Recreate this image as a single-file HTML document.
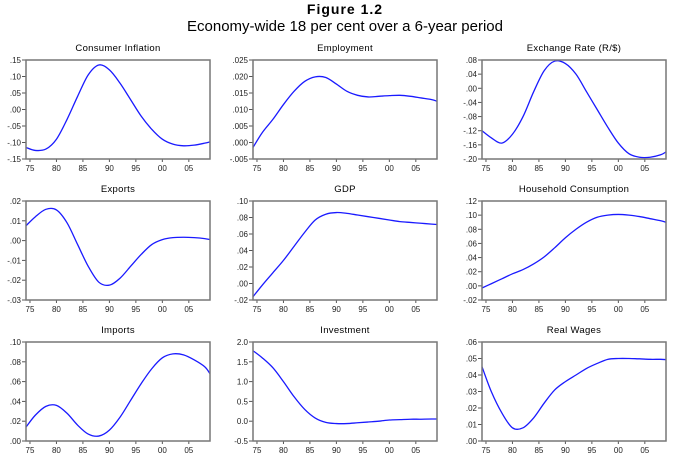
<!DOCTYPE html>
<html><head><meta charset="utf-8"><style>
body{margin:0;background:#fff;width:690px;height:468px;overflow:hidden;font-family:"Liberation Sans",Arial,sans-serif}
svg{position:absolute;left:0;top:0}
</style></head><body>
<svg id="c" width="690" height="468">
<text x="345" y="14" text-anchor="middle" font-size="14" font-weight="bold" letter-spacing="1">Figure 1.2</text>
<text x="345" y="31" text-anchor="middle" font-size="15">Economy-wide 18 per cent over a 6-year period</text>
</svg>
<script>
const years=[74.25,76,78,80,82,84,86,88,90,92,94,96,98,100,102,104,106,108,109];
const xTicks=[75,80,85,90,95,100,105];
const xTickLabels=["75","80","85","90","95","00","05"];
const titles=["Consumer Inflation","Employment","Exchange Rate (R/$)","Exports","GDP","Household Consumption","Imports","Investment","Real Wages"];
const cpi=[-.115,-.124,-.12,-.09,-.03,.04,.105,.135,.12,.08,.03,-.02,-.06,-.09,-.105,-.11,-.108,-.102,-.098];
const employment=[-.0015,.003,.007,.0115,.0155,.0185,.0199,.0197,.0177,.0155,.0143,.0138,.014,.0142,.0143,.014,.0135,.013,.0125];
const exchange=[-.12,-.14,-.155,-.13,-.08,-.01,.05,.077,.07,.04,-.01,-.06,-.11,-.155,-.185,-.195,-.195,-.188,-.18];
const exportsS=[.0075,.012,.0158,.0155,.009,-.002,-.013,-.021,-.0225,-.019,-.013,-.007,-.002,.0005,.0015,.0017,.0015,.001,.0005];
const gdp=[-.016,-.002,.013,.028,.045,.062,.077,.084,.086,.085,.083,.081,.079,.077,.075,.074,.073,.072,.0715];
const hhc=[-.003,.003,.01,.017,.023,.031,.041,.054,.068,.08,.09,.097,.1,.101,.1,.098,.095,.092,.09];
const importsS=[.014,.026,.035,.036,.028,.016,.007,.005,.011,.024,.041,.058,.073,.084,.088,.087,.082,.075,.068];
const investment=[1.78,1.6,1.35,1.0,.62,.3,.08,-.03,-.06,-.06,-.04,-.02,0,.03,.04,.05,.05,.055,.055];
const wages=[.045,.03,.017,.008,.008,.014,.023,.031,.036,.04,.044,.047,.0495,.05,.05,.0498,.0495,.0495,.0493];
const series=[cpi,employment,exchange,exportsS,gdp,hhc,importsS,investment,wages];
const yTickLabels=[
[".15",".10",".05",".00","-.05","-.10","-.15"],
[".025",".020",".015",".010",".005",".000","-.005"],
[".08",".04",".00","-.04","-.08","-.12","-.16","-.20"],
[".02",".01",".00","-.01","-.02","-.03"],
[".10",".08",".06",".04",".02",".00","-.02"],
[".12",".10",".08",".06",".04",".02",".00","-.02"],
[".10",".08",".06",".04",".02",".00"],
["2.0","1.5","1.0","0.5","0.0","-0.5"],
[".06",".05",".04",".03",".02",".01",".00"]];
const yMax=[.15,.025,.08,.02,.10,.12,.10,2.0,.06];
const yMin=[-.15,-.005,-.20,-.03,-.02,-.02,0,-.5,0];
const NS="http://www.w3.org/2000/svg";
const svg=document.getElementById('c');
const colX=[26,253,482], rowY=[60,201,342], W=184, H=99;
const X0=74.25,X1=109;
function mk(t,a,p){const e=document.createElementNS(NS,t);for(const k in a)e.setAttribute(k,a[k]);(p||svg).appendChild(e);return e;}
titles.forEach((tt,i)=>{
  const L=colX[i%3],T=rowY[Math.floor(i/3)];
  const g=mk('g',{});
  
  
  const xs=v=>L+(v-X0)/(X1-X0)*W;
  const ys=v=>T+(yMax[i]-v)/(yMax[i]-yMin[i])*H;
  const ti=mk('text',{x:L+W/2,y:T-9,'text-anchor':'middle','font-size':'9.5','letter-spacing':'0.3'},g);ti.textContent=tt;
  
  
  const labs=yTickLabels[i],n=labs.length;
  labs.forEach((lb,k)=>{const y=T+k*H/(n-1);
    mk('line',{x1:L-4,x2:L,y1:y,y2:y,stroke:'#555','stroke-width':1},g);
    const t=mk('text',{x:L-5,y:y+3,'text-anchor':'end','font-size':'8',fill:'#222'},g);t.textContent=lb;
    
    });
  xTicks.forEach((v,k)=>{const x=xs(v);
    mk('line',{x1:x,x2:x,y1:T+H,y2:T+H+3,stroke:'#555','stroke-width':1},g);
    const t=mk('text',{x:x,y:T+H+12,'text-anchor':'middle','font-size':'8',fill:'#222'},g);t.textContent=xTickLabels[k];
    
    });
  const s=series[i];const P=years.map((yr,k)=>[xs(yr),ys(s[k])]);
  let d='M'+P[0][0]+','+P[0][1];
  for(let k=0;k<P.length-1;k++){const p0=P[k-1]||P[k],p1=P[k],p2=P[k+1],p3=P[k+2]||p2;
    d+=' C'+(p1[0]+(p2[0]-p0[0])/6)+','+(p1[1]+(p2[1]-p0[1])/6)+' '+(p2[0]-(p3[0]-p1[0])/6)+','+(p2[1]-(p3[1]-p1[1])/6)+' '+p2[0]+','+p2[1];}
  const ln=mk('path',{d:d,fill:'none',stroke:'#1a1aff','stroke-width':1.3},g);
  
  
  const fr=mk('rect',{x:L,y:T,width:W,height:H,fill:'none',stroke:'#777','stroke-width':1.5},g);
  
  
});
</script>
</body></html>
